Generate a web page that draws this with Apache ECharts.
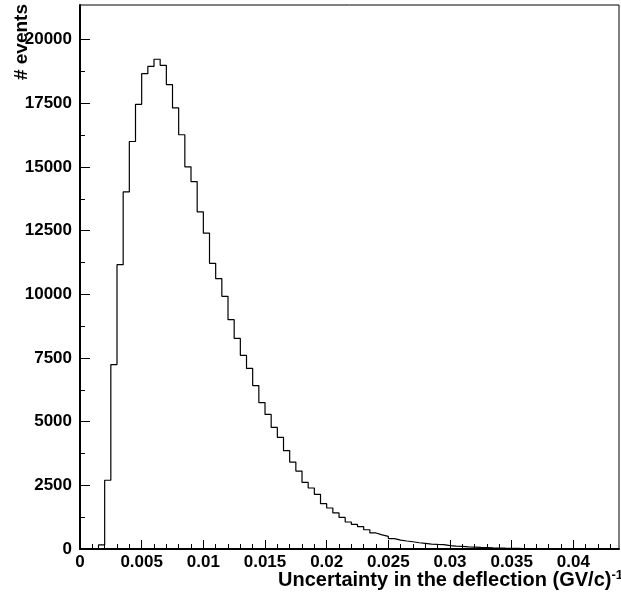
<!DOCTYPE html>
<html>
<head>
<meta charset="utf-8">
<script src="https://cdn.jsdelivr.net/npm/echarts@6/dist/echarts.min.js"></script>
<style>
  html, body { margin: 0; padding: 0; background: #fff; }
  #chart { width: 621px; height: 592px; }
</style>
</head>
<body>
<div id="chart"></div>
<script>
// Histogram of the deflection uncertainty, fixed-width bins starting at 0
const binWidth = 0.0005;
const binStart = 0;
const counts = [
  0, 0, 0, 160, 2700, 7240, 11165, 14020, 16000, 17460,
  18665, 18950, 19230, 18990, 18235, 17320, 16265, 15005, 14425, 13240,
  12400, 11215, 10615, 9920, 9005, 8270, 7605, 7090, 6415, 5750,
  5285, 4775, 4385, 3860, 3415, 3060, 2615, 2395, 2145, 1780,
  1610, 1415, 1240, 1060, 965, 875, 755, 630, 555, 495,
  405, 350, 315, 285, 245, 220, 195, 180, 170, 130,
  115, 105, 85, 75, 60, 55, 45, 40, 32, 28,
  25, 20, 18, 16, 12, 10, 9, 8, 6, 5,
  4, 4, 3, 3, 2, 2, 1
];

// Axis ticks and their labels
const xTickValues = [0, 0.005, 0.01, 0.015, 0.02, 0.025, 0.03, 0.035, 0.04];
const xTickLabels = ['0', '0.005', '0.01', '0.015', '0.02', '0.025', '0.03', '0.035', '0.04'];
const yTickValues = [0, 2500, 5000, 7500, 10000, 12500, 15000, 17500, 20000];
const yTickLabels = ['0', '2500', '5000', '7500', '10000', '12500', '15000', '17500', '20000'];

const xMin = 0, xMax = 0.0437;
const yMin = 0, yMax = 21360;

// Minor tick positions: 5 per major x division, 2 per major y division
const xMinorValues = [];
for (let k = 1; k * 0.001 < xMax; k++) if (k % 5) xMinorValues.push(+(k * 0.001).toFixed(4));
const yMinorValues = [];
for (let k = 0; k < yTickValues.length - 1; k++) yMinorValues.push((yTickValues[k] + yTickValues[k + 1]) / 2);

// Step outline: one point per bin low edge, closing point at the last high edge
const histPoints = counts.map((c, i) => [+(binStart + i * binWidth).toFixed(5), c]);
histPoints.push([+(binStart + counts.length * binWidth).toFixed(5), counts[counts.length - 1]]);

const FONT = '"Liberation Sans", Arial, Helvetica, sans-serif';
const labelStyle = { fontFamily: FONT, fontWeight: 'bold', fontSize: 17, color: '#000' };

const chart = echarts.init(document.getElementById('chart'), null, { renderer: 'canvas' });

const xLabelOf = v => {
  const i = xTickValues.findIndex(t => Math.abs(t - v) < 1e-9);
  return i >= 0 ? xTickLabels[i] : '';
};
const yLabelOf = v => {
  const i = yTickValues.findIndex(t => Math.abs(t - v) < 1e-6);
  return i >= 0 ? yTickLabels[i] : '';
};

chart.setOption({
  animation: false,
  backgroundColor: '#fff',
  grid: {
    left: 80, right: 2, top: 5, bottom: 43,
    show: true, borderColor: '#000', borderWidth: 1, backgroundColor: 'transparent'
  },
  xAxis: [
    {
      type: 'value', min: xMin, max: xMax,
      axisLine: { show: true, onZero: false, lineStyle: { color: '#000', width: 2 } },
      axisTick: { show: true, inside: true, length: 9, customValues: xTickValues, lineStyle: { color: '#000', width: 1 } },
      axisLabel: { ...labelStyle, margin: 5, customValues: xTickValues, formatter: xLabelOf },
      splitLine: { show: false }
    },
    {
      type: 'value', min: xMin, max: xMax, position: 'bottom',
      axisLine: { show: false },
      axisTick: { show: true, inside: true, length: 5, customValues: xMinorValues, lineStyle: { color: '#000', width: 1 } },
      axisLabel: { show: false },
      splitLine: { show: false }
    }
  ],
  yAxis: [
    {
      type: 'value', min: yMin, max: yMax,
      axisLine: { show: true, onZero: false, lineStyle: { color: '#000', width: 2 } },
      axisTick: { show: true, inside: true, length: 10, customValues: yTickValues, lineStyle: { color: '#000', width: 1 } },
      axisLabel: { ...labelStyle, margin: 8, customValues: yTickValues, formatter: yLabelOf },
      splitLine: { show: false }
    },
    {
      type: 'value', min: yMin, max: yMax, position: 'left',
      axisLine: { show: false },
      axisTick: { show: true, inside: true, length: 5, customValues: yMinorValues, lineStyle: { color: '#000', width: 1 } },
      axisLabel: { show: false },
      splitLine: { show: false }
    }
  ],
  series: [{
    type: 'line',
    xAxisIndex: 0, yAxisIndex: 0,
    step: 'end',
    data: histPoints,
    showSymbol: false,
    symbol: 'none',
    lineStyle: { color: '#000', width: 1.2 },
    clip: true
  }],
  graphic: [
    {
      type: 'text',
      x: 623, y: 569,
      style: {
        text: 'Uncertainty in the deflection (GV/c){sup|-1}',
        textAlign: 'right', textVerticalAlign: 'top',
        font: 'bold 20px ' + FONT,
        fill: '#000',
        rich: {
          sup: { fontFamily: FONT, fontWeight: 'bold', fontSize: 13, verticalAlign: 'top', padding: [0, 0, 10, 0] }
        }
      }
    },
    {
      type: 'text',
      x: 31, y: 4,
      rotation: Math.PI / 2,
      style: {
        text: '# events',
        textAlign: 'right', textVerticalAlign: 'bottom',
        font: 'bold 19px ' + FONT,
        fill: '#000'
      }
    }
  ]
});
</script>
</body>
</html>
